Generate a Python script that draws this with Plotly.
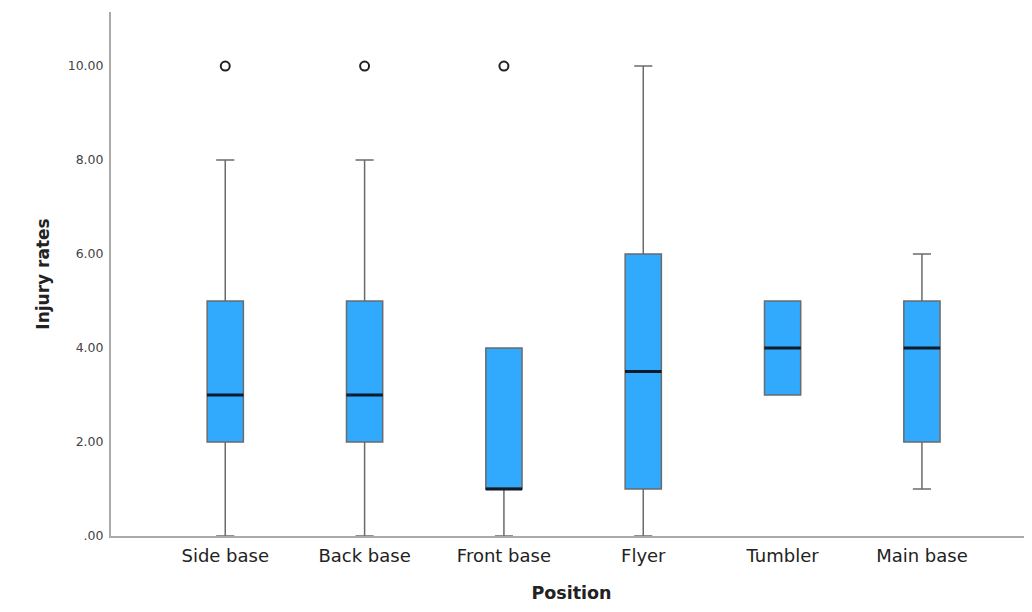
import plotly.graph_objects as go

categories = ["Side base", "Back base", "Front base", "Flyer", "Tumbler", "Main base"]
q1 = [2, 2, 1, 1, 3, 2]
median = [3, 3, 1, 3.5, 4, 4]
q3 = [5, 5, 4, 6, 5, 5]
lowerfence = [0, 0, 0, 0, 3, 1]
upperfence = [8, 8, 4, 10, 5, 6]
outlier_x = ["Side base", "Back base", "Front base"]
outlier_y = [10, 10, 10]
y_ticks = [0, 2, 4, 6, 8, 10]
y_tick_labels = [".00", "2.00", "4.00", "6.00", "8.00", "10.00"]

fig = go.Figure()
fig.add_trace(go.Box(
    x=categories, q1=q1, median=median, q3=q3,
    lowerfence=lowerfence, upperfence=upperfence,
    fillcolor="#31A9FD", line=dict(color="#6b6b6b", width=1.5),
    width=0.26, whiskerwidth=0.5, boxpoints=False, showlegend=False,
    hoverinfo="skip",
))
fig.add_trace(go.Scatter(
    x=categories, y=median, mode="markers",
    marker=dict(symbol="line-ew", size=26, line=dict(color="#0d1a2a", width=3)),
    showlegend=False, hoverinfo="skip",
))
fig.add_trace(go.Scatter(
    x=outlier_x, y=outlier_y, mode="markers",
    marker=dict(symbol="circle-open", size=9, color="#222222", line=dict(width=2)),
    showlegend=False, hoverinfo="skip",
))

fig.update_layout(
    width=1024, height=596,
    margin=dict(l=103, r=0, t=4, b=68),
    plot_bgcolor="white", paper_bgcolor="white",
    font=dict(family="DejaVu Sans", color="#222222"),
    xaxis=dict(
        type="category", range=[-0.82, 5.79], automargin=False,
        showline=True, linecolor="#aaaaaa", linewidth=2,
        showgrid=False, zeroline=False, ticks="", ticklabelstandoff=2,
        tickfont=dict(size=18, color="#222222"),
        title=dict(text="<b>Position</b>", font=dict(size=17.5), standoff=22),
    ),
    yaxis=dict(
        range=[0, 11.15], tickvals=y_ticks, ticktext=y_tick_labels, automargin=False,
        showline=True, linecolor="#aaaaaa", linewidth=2,
        showgrid=False, zeroline=False, ticks="", ticklabelstandoff=3,
        tickfont=dict(size=12.5, color="#444444"),
        title=dict(text="<b>Injury rates</b>", font=dict(size=17), standoff=14),
    ),
)

fig.write_html("out.html")
